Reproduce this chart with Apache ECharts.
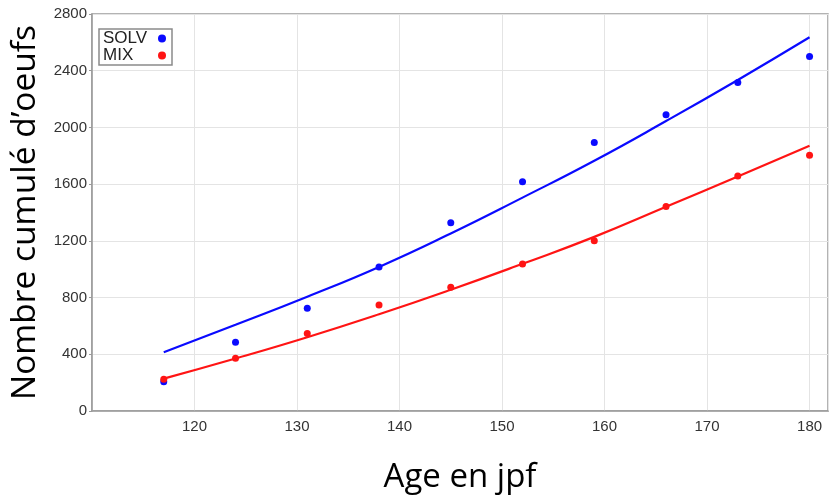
<!DOCTYPE html>
<html>
<head>
<meta charset="utf-8">
<script src="https://cdn.jsdelivr.net/npm/echarts@6/dist/echarts.min.js"></script>
<style>
html,body{margin:0;padding:0;background:#fff;}
#chart{width:830px;height:495px;}
</style>
</head>
<body>
<div id="chart"></div>
<script>
// Ages (jours post-fécondation) of the observations
const ages = [117, 124, 131, 138, 145, 152, 159, 166, 173, 180];
// Observed cumulative egg counts
const solvPoints = [207, 485, 724, 1016, 1328, 1616, 1893, 2090, 2316, 2500];
const mixPoints  = [224, 372, 546, 748, 873, 1037, 1201, 1443, 1658, 1804];
// Fitted curves at the same ages
const solvFit = [414, 608, 806, 1016, 1252, 1505, 1765, 2045, 2335, 2636];
const mixFit  = [228, 370, 520, 682, 855, 1038, 1228, 1440, 1654, 1870];
// Axis ticks
const xTicks = [120, 130, 140, 150, 160, 170, 180];
const yTicks = [0, 400, 800, 1200, 1600, 2000, 2400, 2800];

const pair = (xs, ys) => xs.map((x, i) => [x, ys[i]]);
const BLUE = '#0a0aff';
const RED = '#ff1414';

const chart = echarts.init(document.getElementById('chart'), null, {renderer: 'canvas'});
chart.setOption({
  animation: false,
  backgroundColor: '#ffffff',
  grid: {
    left: 92, right: 2, top: 14, bottom: 84,
    outerBoundsMode: 'none',
    containLabel: false,
    show: true, borderColor: '#9a9a9a', borderWidth: 1.5, backgroundColor: 'transparent'
  },
  legend: {
    data: ['SOLV', 'MIX'],
    orient: 'vertical',
    left: 99, top: 29,
    align: 'right',
    itemGap: 0,
    itemWidth: 8, itemHeight: 8,
    padding: [1, 6, 1, 4],
    borderColor: '#8a8a8a', borderWidth: 1.5,
    icon: 'circle',
    formatter: name => '{t|' + name + '}',
    textStyle: {
      fontFamily: 'Liberation Sans', fontSize: 17, color: '#222', lineHeight: 17,
      rich: {t: {width: 50, align: 'left', fontFamily: 'Liberation Sans', fontSize: 17, color: '#222', lineHeight: 17}}
    }
  },
  xAxis: {
    type: 'value',
    min: 110, max: 181.8, interval: 10,
    name: 'Age en jpf',
    nameLocation: 'middle',
    nameGap: 50,
    nameTextStyle: {fontFamily: 'Open Sans', fontSize: 33, color: '#000'},
    axisLine: {show: true, lineStyle: {color: '#9a9a9a', width: 1.5}},
    axisTick: {show: false},
    axisLabel: {
      margin: 8,
      fontFamily: 'Liberation Sans', fontSize: 15, color: '#333',
      formatter: v => (xTicks.indexOf(Math.round(v * 1000) / 1000) >= 0 ? String(v) : '')
    },
    splitLine: {show: true, lineStyle: {color: '#e4e4e4', width: 1}}
  },
  yAxis: {
    type: 'value',
    min: yTicks[0], max: yTicks[yTicks.length - 1], interval: 400,
    name: 'Nombre cumulé d’oeufs',
    nameLocation: 'middle',
    nameGap: 47,
    nameTextStyle: {fontFamily: 'Open Sans', fontSize: 33.5, color: '#000'},
    axisLine: {show: true, lineStyle: {color: '#9a9a9a', width: 1.5}},
    axisTick: {show: true, length: 3, lineStyle: {color: '#9a9a9a'}},
    axisLabel: {margin: 5, fontFamily: 'Liberation Sans', fontSize: 15, color: '#333', formatter: v => String(v)},
    splitLine: {show: true, lineStyle: {color: '#e4e4e4', width: 1}}
  },
  series: [
    {
      name: 'SOLV fit', type: 'line', data: pair(ages, solvFit), smooth: true,
      showSymbol: false, lineStyle: {color: BLUE, width: 2.2}, itemStyle: {color: BLUE}, z: 2
    },
    {
      name: 'MIX fit', type: 'line', data: pair(ages, mixFit), smooth: true,
      showSymbol: false, lineStyle: {color: RED, width: 2.2}, itemStyle: {color: RED}, z: 2
    },
    {
      name: 'SOLV', type: 'scatter', data: pair(ages, solvPoints), symbolSize: 7,
      itemStyle: {color: BLUE, opacity: 1}, z: 3
    },
    {
      name: 'MIX', type: 'scatter', data: pair(ages, mixPoints), symbolSize: 7,
      itemStyle: {color: RED, opacity: 1}, z: 3
    }
  ]
});
</script>
</body>
</html>
